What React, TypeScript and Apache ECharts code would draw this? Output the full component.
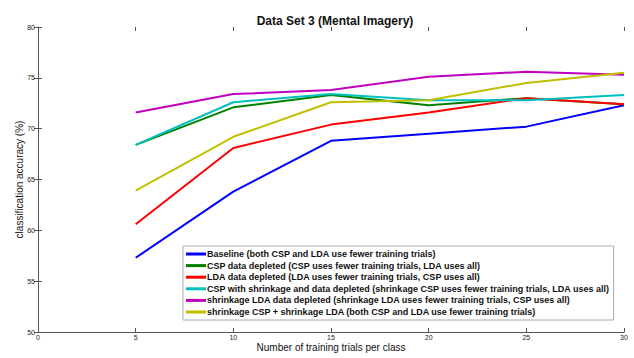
import React, { useEffect, useRef } from "react";
import * as echarts from "echarts";

const trials = [5, 10, 15, 20, 25, 30];
const baseline = [57.3, 63.8, 68.8, 69.5, 70.2, 72.3];
const cspDepleted = [68.4, 72.1, 73.3, 72.3, 73.0, 72.4];
const ldaDepleted = [60.6, 68.1, 70.4, 71.6, 73.0, 72.4];
const cspShrinkDepleted = [68.4, 72.6, 73.4, 72.8, 72.8, 73.3];
const shrinkLdaDepleted = [71.6, 73.4, 73.8, 75.1, 75.6, 75.3];
const shrinkBoth = [63.9, 69.2, 72.6, 72.8, 74.5, 75.5];

const seriesNames = [
  "Baseline (both CSP and LDA use fewer training trials)",
  "CSP data depleted (CSP uses fewer training trials, LDA uses all)",
  "LDA data depleted (LDA uses fewer training trials, CSP uses all)",
  "CSP with shrinkage and data depleted (shrinkage CSP uses fewer training trials, LDA uses all)",
  "shrinkage LDA data depleted (shrinkage LDA uses fewer training trials, CSP uses all)",
  "shrinkage CSP + shrinkage LDA (both CSP and LDA use fewer training trials)",
];
const seriesValues = [baseline, cspDepleted, ldaDepleted, cspShrinkDepleted, shrinkLdaDepleted, shrinkBoth];
const seriesColors = ["#0000ff", "#008000", "#ff0000", "#00bfbf", "#bf00bf", "#bfbf00"];

const FONT = "'Liberation Sans', Arial, sans-serif";

export default function App() {
  const ref = useRef<HTMLDivElement>(null);
  useEffect(() => {
    if (!ref.current) return;
    const chart = echarts.init(ref.current, null, { renderer: "svg" });
    const series = seriesNames.map((name, i) => ({
      name,
      type: "line",
      xAxisIndex: 0,
      yAxisIndex: 0,
      data: trials.map((t, j) => [t, seriesValues[i][j]]),
      showSymbol: false,
      symbol: "none",
      lineStyle: { color: seriesColors[i], width: 2 },
      itemStyle: { color: seriesColors[i] },
      z: 2 + i,
    }));
    chart.setOption({
      animation: false,
      backgroundColor: "#ffffff",
      title: {
        text: "Data Set 3 (Mental Imagery)",
        left: 330,
        textAlign: "center",
        top: 10,
        textStyle: { fontFamily: FONT, fontSize: 12, fontWeight: "bold", color: "#111" },
      },
      grid: { left: 38, right: 10, top: 27, bottom: 26, outerBoundsMode: "none", containLabel: false },
      legend: {
        orient: "vertical",
        left: 183,
        top: 246,
        backgroundColor: "#ffffff",
        borderColor: "#aaaaaa",
        borderWidth: 1,
        padding: [3, 4, 3, 3],
        itemGap: 1.6,
        itemWidth: 20,
        itemHeight: 3,
        icon: "rect",
        textStyle: { fontFamily: FONT, fontSize: 9, fontWeight: "bold", color: "#111", lineHeight: 10, padding: [0, 0, 0, -4] },
        data: seriesNames,
      },
      xAxis: [
        {
          type: "value",
          min: 0,
          max: 30,
          interval: 5,
          name: "Number of training trials per class",
          nameLocation: "middle",
          nameGap: 10,
          nameMoveOverlap: false,
          nameTextStyle: { fontFamily: FONT, fontSize: 10, color: "#111" },
          axisLine: { show: true, onZero: false, lineStyle: { color: "#555", width: 1 } },
          axisTick: { show: true, inside: true, length: 4, lineStyle: { color: "#555" } },
          axisLabel: { fontFamily: FONT, fontSize: 7, color: "#222", margin: 2 },
          splitLine: { show: false },
        },
        {
          type: "value",
          position: "top",
          min: 0,
          max: 30,
          interval: 5,
          axisLine: { show: false },
          axisTick: { show: true, inside: true, length: 4, lineStyle: { color: "#555" } },
          axisLabel: { show: false },
          splitLine: { show: false },
        },
      ],
      yAxis: [
        {
          type: "value",
          min: 50,
          max: 80,
          interval: 5,
          name: "classification accuracy (%)",
          nameLocation: "middle",
          nameGap: 14,
          nameMoveOverlap: false,
          nameTextStyle: { fontFamily: FONT, fontSize: 10, color: "#111" },
          axisLine: { show: true, onZero: false, lineStyle: { color: "#555", width: 1 } },
          axisTick: { show: true, inside: true, length: 4, lineStyle: { color: "#555" } },
          axisLabel: { fontFamily: FONT, fontSize: 7, color: "#222", margin: 3 },
          splitLine: { show: false },
        },
        {
          type: "value",
          position: "right",
          min: 50,
          max: 80,
          interval: 5,
          axisLine: { show: false },
          axisTick: { show: true, inside: true, length: 4, lineStyle: { color: "#555" } },
          axisLabel: { show: false },
          splitLine: { show: false },
        },
      ],
      series,
    });
    return () => chart.dispose();
  }, []);
  return <div ref={ref} style={{ position: "fixed", left: 0, top: 0, width: 634, height: 358 }} />;
}
